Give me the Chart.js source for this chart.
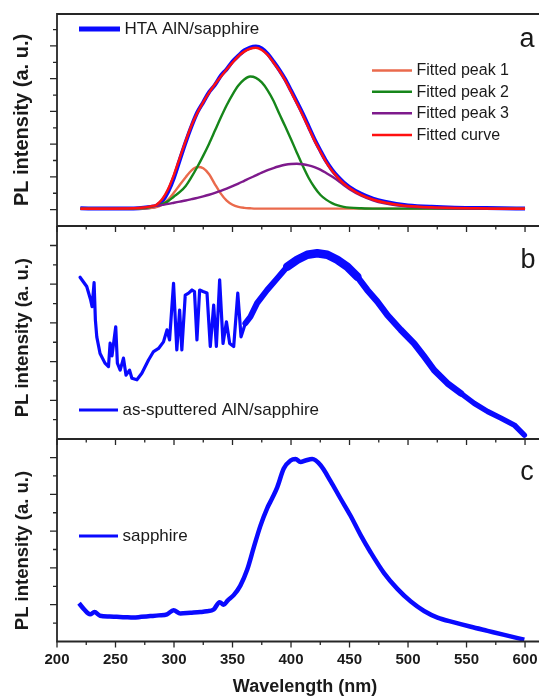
<!DOCTYPE html>
<html><head><meta charset="utf-8">
<script src="https://cdn.jsdelivr.net/npm/chart.js@4.4.1/dist/chart.umd.min.js"></script>
<style>
html,body{margin:0;padding:0;background:#fff;overflow:hidden;width:539px;height:699px;position:relative;}
canvas{position:absolute;left:0;}
</style></head><body>
<canvas id="ca" width="553" height="230" style="top:0px"></canvas>
<canvas id="cb" width="553" height="221" style="top:222px"></canvas>
<canvas id="cc" width="553" height="264" style="top:435px"></canvas>
<script>
// ---------- data ----------
const xTickValues = [200, 250, 300, 350, 400, 450, 500, 550, 600];

// Panel a: HTA AlN/sapphire and Gaussian fit
const wavelengthA = [220,240,260,270,280,285,290,295,300,305,310,315,320,325,330,335,340,345,350,355,360,365,370,375,380,385,390,395,400,405,410,415,420,425,430,435,440,445,450,460,470,480,490,500,520,540,560,580,600];
const htaData = [0.008,0.007,0.007,0.009,0.016,0.024,0.052,0.110,0.196,0.305,0.412,0.510,0.595,0.656,0.718,0.762,0.818,0.858,0.905,0.940,0.972,0.990,0.996,0.985,0.952,0.905,0.854,0.796,0.728,0.658,0.586,0.509,0.431,0.362,0.297,0.244,0.201,0.166,0.138,0.096,0.067,0.048,0.035,0.026,0.017,0.012,0.010,0.008,0.007];
const fittedPeak1 = [0.006,0.006,0.006,0.006,0.010,0.015,0.032,0.061,0.104,0.152,0.198,0.240,0.260,0.253,0.216,0.155,0.098,0.055,0.030,0.017,0.011,0.008,0.006,0.006,0.006,0.006,0.006,0.006,0.006,0.006,0.006,0.006,0.006,0.006,0.006,0.006,0.006,0.006,0.006,0.006,0.006,0.006,0.006,0.006,0.006,0.006,0.006,0.006,0.006];
const fittedPeak2 = [0.006,0.006,0.007,0.008,0.016,0.024,0.034,0.052,0.080,0.108,0.145,0.200,0.262,0.330,0.403,0.483,0.563,0.638,0.703,0.758,0.795,0.813,0.805,0.777,0.729,0.665,0.585,0.509,0.430,0.348,0.268,0.195,0.137,0.091,0.061,0.040,0.026,0.017,0.012,0.008,0.006,0.006,0.006,0.006,0.006,0.006,0.006,0.006,0.006];
const fittedPeak3 = [0.006,0.007,0.009,0.011,0.018,0.023,0.029,0.035,0.042,0.049,0.056,0.064,0.072,0.081,0.091,0.102,0.114,0.128,0.143,0.159,0.176,0.193,0.209,0.226,0.241,0.254,0.265,0.274,0.279,0.280,0.277,0.270,0.259,0.244,0.224,0.202,0.178,0.150,0.125,0.085,0.057,0.038,0.026,0.019,0.011,0.008,0.007,0.006,0.006];
const fittedCurve = [0.006,0.006,0.007,0.010,0.020,0.030,0.065,0.126,0.214,0.318,0.420,0.515,0.592,0.657,0.715,0.766,0.812,0.856,0.898,0.937,0.965,0.983,0.989,0.975,0.945,0.899,0.848,0.790,0.720,0.650,0.577,0.500,0.423,0.355,0.290,0.237,0.195,0.160,0.132,0.090,0.062,0.043,0.031,0.022,0.014,0.010,0.008,0.006,0.006];

// Panel b: as-sputtered AlN/sapphire
const wavelengthB = [219.7,225.4,228.8,230,231.7,232.8,234,236.8,241,244,245.4,247,250.2,251.6,254,256.8,259,262,264,268.3,272.5,278.2,282.5,286.8,291,294,296.2,299.6,302.4,304.8,306.7,309.6,312.5,315.4,317.5,319.6,321.9,324.8,328.2,331,333.9,336.2,339,341.9,344.8,347.6,351,354.5,357.3,361,365.3,371,379.6,388.2,396.7,405.3,413.9,422.4,431,439.5,448.1,456.7,465.2,473.8,482.4,493.8,505.2,513.8,522.3,533.7,545.2,556.6,568,579.4,590.8,599.4];
const sputteredData = [4.18,3.94,3.59,3.42,4.04,3.08,2.64,2.21,1.96,1.87,2.48,2.15,2.90,1.96,1.78,2.09,1.65,1.78,1.57,1.53,1.70,2.04,2.26,2.34,2.51,2.82,2.56,4.02,2.30,3.33,2.30,3.72,3.77,3.85,3.81,2.56,3.85,3.81,3.77,2.39,3.46,2.39,4.11,2.47,3.03,2.47,2.39,3.77,2.64,2.99,3.16,3.51,3.85,4.15,4.45,4.63,4.76,4.80,4.76,4.63,4.45,4.19,3.85,3.55,3.20,2.82,2.47,2.13,1.78,1.44,1.18,0.92,0.71,0.54,0.36,0.10];

// Panel c: sapphire
const wavelengthC = [218.8,223,228.3,232,236.8,245,251,258,265.3,272,279.7,287,294,299.6,305.4,314,322.5,328,333.9,339,342.4,346,351,356.7,362.5,368.1,373.9,379.6,384,388.2,393.8,399.6,403.9,408.1,412.4,418.1,425.3,433.8,442.4,451,459.5,468.1,479.5,490.9,502.4,513.7,525.2,539.4,553.7,568,582.3,599.4];
const sapphireData = [1.04,0.88,0.74,0.80,0.70,0.68,0.67,0.66,0.65,0.67,0.69,0.71,0.74,0.85,0.76,0.78,0.80,0.82,0.87,1.07,1.00,1.12,1.26,1.52,1.95,2.55,3.15,3.62,3.90,4.19,4.70,4.92,4.96,4.88,4.92,4.96,4.79,4.36,3.88,3.41,2.89,2.42,1.86,1.43,1.085,0.83,0.65,0.52,0.40,0.29,0.18,0.05];

// ---------- chart setup ----------
Chart.defaults.font.family = '"Liberation Sans", Arial, sans-serif';
Chart.defaults.color = '#1a1a1a';
Chart.defaults.animation = false;

const X_MIN = 200, X_MAX = 623.9;
const TXT = '#1a1a1a';
const pts = (xs, ys) => xs.map((x, i) => ({x: x, y: ys[i]}));

function xScale(show) {
  return {
    type: 'linear', min: X_MIN, max: X_MAX, display: show,
    grid: {display: false, drawTicks: false, tickLength: 0},
    border: {display: false},
    afterBuildTicks: s => { s.ticks = xTickValues.map(v => ({value: v})); },
    ticks: {display: show, font: {size: 15, weight: 'bold', lineHeight: 1.0}, padding: 10.5, color: TXT, maxRotation: 0, autoSkip: false},
    title: {display: show, text: 'Wavelength (nm)', font: {size: 18, weight: 'bold', lineHeight: 1.0}, padding: {top: 0.5, bottom: 3}, color: TXT}
  };
}
function yScale(min, max, size, text) {
  const lh = size * 1.2;
  const pt = 22.5 - lh / 2;
  const pb = 57 - lh - pt;
  return {
    type: 'linear', min: min, max: max, display: true,
    grid: {display: false, drawTicks: false, tickLength: 0},
    border: {display: false},
    ticks: {display: false},
    title: {display: true, text: text, font: {size: size, weight: 'bold', lineHeight: 1.2}, padding: {top: pt, bottom: pb}, color: TXT}
  };
}

const decorPlugin = {
  id: 'decor',
  afterDatasetsDraw(chart, args, o) {
    const ctx = chart.ctx, a = chart.chartArea, xs = chart.scales.x, ys = chart.scales.y;
    ctx.save();
    ctx.strokeStyle = '#262626';
    ctx.lineCap = 'butt';
    // frame
    ctx.lineWidth = 1.8;
    ctx.beginPath();
    ctx.moveTo(a.left, a.top - (o.topBorder ? 0.9 : 0)); ctx.lineTo(a.left, a.bottom + 0.9);
    ctx.moveTo(a.left - 0.9, a.bottom); ctx.lineTo(a.right, a.bottom);
    if (o.topBorder) { ctx.moveTo(a.left - 0.9, a.top); ctx.lineTo(a.right, a.top); }
    ctx.stroke();
    // y ticks (outward, left)
    ctx.lineWidth = 1.3;
    ctx.beginPath();
    const k0 = Math.ceil(ys.min / o.yMinor - 1e-6), k1 = Math.floor(ys.max / o.yMinor + 1e-6);
    for (let k = k0; k <= k1; k++) {
      const py = ys.getPixelForValue(k * o.yMinor);
      if (py > a.bottom - 1.5 || py < a.top + 1.5) continue;
      const len = (Math.abs(k) % 2 === 0) ? 7 : 4;
      ctx.moveTo(a.left, py); ctx.lineTo(a.left - len, py);
    }
    // x ticks
    for (let nm = 200; nm <= 600; nm += 25) {
      const px = xs.getPixelForValue(nm);
      const len = (nm % 50 === 0) ? 6 : 3.5;
      if (o.topTicks) { ctx.moveTo(px, a.top); ctx.lineTo(px, a.top + len); }
      if (o.bottomTicks) { ctx.moveTo(px, a.bottom); ctx.lineTo(px, a.bottom + len); }
    }
    ctx.stroke();
    // legend items
    const top = chart.canvas.offsetTop;
    (o.legend || []).forEach(it => {
      const yy = it.y - top;
      ctx.strokeStyle = it.color; ctx.lineWidth = it.width;
      ctx.beginPath(); ctx.moveTo(it.x1, yy); ctx.lineTo(it.x2, yy); ctx.stroke();
      ctx.fillStyle = TXT; ctx.font = it.font; ctx.textBaseline = 'middle'; ctx.textAlign = 'left';
      ctx.fillText(it.text, it.x2 + 4.5, yy + 0.5);
    });
    // panel letter
    if (o.letter) {
      ctx.fillStyle = TXT; ctx.font = '27px "Liberation Sans", Arial, sans-serif';
      ctx.textBaseline = 'alphabetic'; ctx.textAlign = 'center';
      ctx.fillText(o.letter.text, o.letter.x, o.letter.y - top);
    }
    ctx.restore();
  }
};

const FONT17 = '17px "Liberation Sans", Arial, sans-serif';
const FONT16 = '16px "Liberation Sans", Arial, sans-serif';
const BLUE = '#0a0aff', RED = '#ff1010', GREEN = '#16861a', PURPLE = '#7e1a8c', ORANGE = '#ea6a4c';

function baseOptions(padding, decor, ymin, ymax, tsize, ttext, showX) {
  return {
    responsive: false, animation: false,
    layout: {padding: padding},
    plugins: {legend: {display: false}, tooltip: {enabled: false}, decor: decor},
    elements: {point: {radius: 0}},
    scales: {x: xScale(showX), y: yScale(ymin, ymax, tsize, ttext)}
  };
}

// Panel a
new Chart(document.getElementById('ca'), {
  type: 'line',
  data: {datasets: [
    {label: 'Fitted curve', data: pts(wavelengthA, fittedCurve), borderColor: RED, borderWidth: 2.5, cubicInterpolationMode: 'monotone', pointRadius: 0},
    {label: 'Fitted peak 3', data: pts(wavelengthA, fittedPeak3), borderColor: PURPLE, borderWidth: 2.4, cubicInterpolationMode: 'monotone', pointRadius: 0},
    {label: 'Fitted peak 2', data: pts(wavelengthA, fittedPeak2), borderColor: GREEN, borderWidth: 2.4, cubicInterpolationMode: 'monotone', pointRadius: 0},
    {label: 'Fitted peak 1', data: pts(wavelengthA, fittedPeak1), borderColor: ORANGE, borderWidth: 2.4, cubicInterpolationMode: 'monotone', pointRadius: 0},
    {label: 'HTA AlN/sapphire', data: pts(wavelengthA, htaData), borderColor: BLUE, borderWidth: 4, cubicInterpolationMode: 'monotone', pointRadius: 0}
  ]},
  options: baseOptions({top: 14, bottom: 4, left: 0, right: 0}, {
    topBorder: true, topTicks: false, bottomTicks: false, yMinor: 0.1,
    letter: {text: 'a', x: 527, y: 47},
    legend: [
      {text: 'HTA AlN/sapphire', color: BLUE, width: 5, x1: 79, x2: 120, y: 29, font: FONT17},
      {text: 'Fitted peak 1', color: ORANGE, width: 2.6, x1: 372, x2: 412, y: 70.5, font: FONT16},
      {text: 'Fitted peak 2', color: GREEN, width: 2.6, x1: 372, x2: 412, y: 91.7, font: FONT16},
      {text: 'Fitted peak 3', color: PURPLE, width: 2.6, x1: 372, x2: 412, y: 113.3, font: FONT16},
      {text: 'Fitted curve', color: RED, width: 2.6, x1: 372, x2: 412, y: 135, font: FONT16}
    ]
  }, -0.1, 1.195, 20, 'PL intensity (a. u.)', false),
  plugins: [decorPlugin]
});

// Panel b
new Chart(document.getElementById('cb'), {
  type: 'line',
  data: {datasets: [
    {label: 'as-sputtered AlN/sapphire', data: pts(wavelengthB, sputteredData), borderColor: BLUE, borderWidth: 3.2, tension: 0, pointRadius: 0, borderJoinStyle: 'round', borderCapStyle: 'round',
     segment: {borderWidth: c => { const xv = c.p0.parsed.x; return xv < 358 ? 3.2 : (xv < 392 ? 6 : (xv < 455 ? 8.5 : (xv < 540 ? 6.5 : 5.5))); }}}
  ]},
  options: baseOptions({top: 4, bottom: 4, left: 0, right: 0}, {
    topBorder: false, topTicks: true, bottomTicks: false, yMinor: 0.5,
    letter: {text: 'b', x: 528, y: 267.5},
    legend: [{text: 'as-sputtered AlN/sapphire', color: BLUE, width: 2.8, x1: 79, x2: 118, y: 410, font: FONT17}]
  }, 0, 5.504, 18.5, 'PL intensity (a. u.)  ', false),
  plugins: [decorPlugin]
});

// Panel c
new Chart(document.getElementById('cc'), {
  type: 'line',
  data: {datasets: [
    {label: 'sapphire', data: pts(wavelengthC, sapphireData), borderColor: BLUE, borderWidth: 4.5, cubicInterpolationMode: 'monotone', pointRadius: 0, borderJoinStyle: 'round'}
  ]},
  options: baseOptions({top: 4, bottom: 0, left: 0, right: 0}, {
    topBorder: false, topTicks: true, bottomTicks: true, yMinor: 0.5,
    letter: {text: 'c', x: 527, y: 480},
    legend: [{text: 'sapphire', color: BLUE, width: 3, x1: 79, x2: 118, y: 536, font: FONT17}]
  }, 0, 5.504, 18.5, 'PL intensity (a. u.)    ', true),
  plugins: [decorPlugin]
});
</script>
</body></html>
